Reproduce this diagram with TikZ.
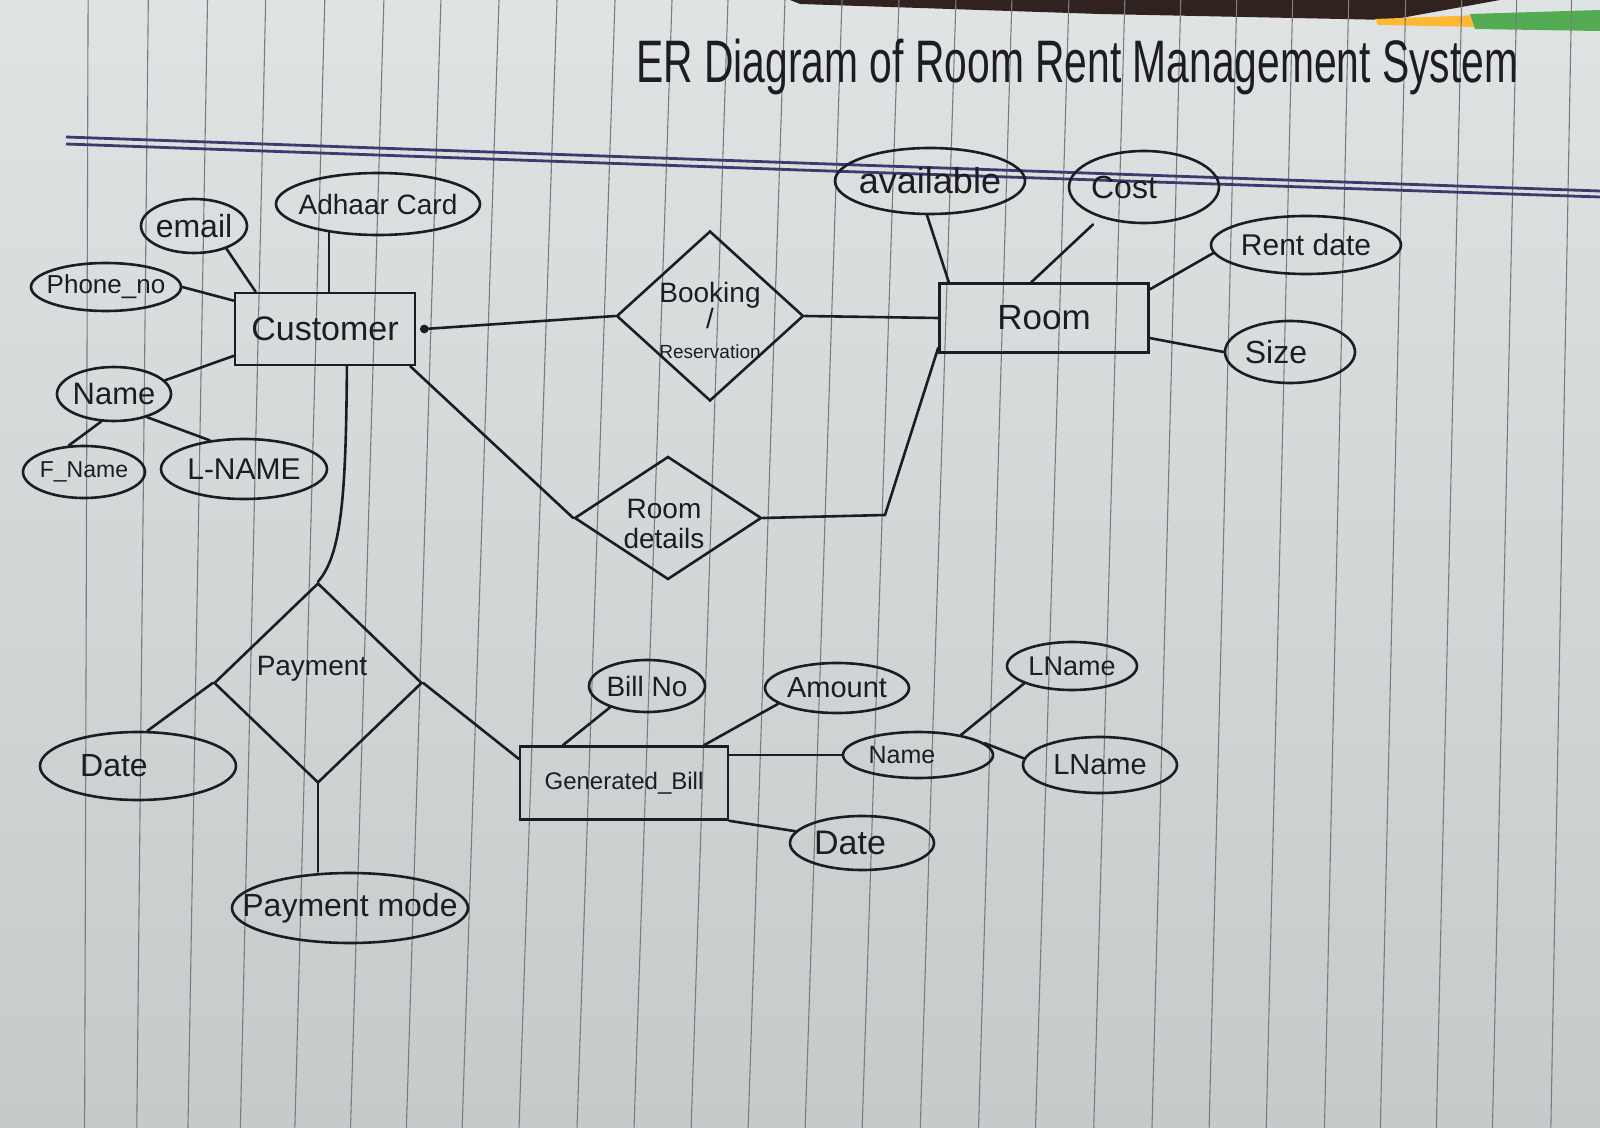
\documentclass[tikz,border=0pt]{standalone}
\usepackage{fontspec}
\setmainfont{Liberation Sans}
\usepackage{graphicx}
\usetikzlibrary{shapes.geometric,calc}
\definecolor{ink}{RGB}{28,28,34}
\definecolor{ruleln}{RGB}{120,125,127}
\definecolor{blueline}{RGB}{58,60,112}
\definecolor{papertop}{RGB}{224,227,227}
\definecolor{paperbot}{RGB}{198,202,202}
\definecolor{deskdark}{RGB}{48,34,30}
\newcommand\fsz[1]{\fontsize{#1}{#1}\selectfont}
\begin{document}
\begin{tikzpicture}[x=0.5pt,y=-0.5pt,
  ent/.style={draw=ink, line width=1.3pt, rectangle, inner sep=0pt, text=ink},
  attr/.style={draw=ink, line width=1.3pt, ellipse, inner sep=0pt, text=ink},
  rel/.style={draw=ink, line width=1.3pt, diamond, inner sep=0pt},
  reltext/.style={inner sep=0pt, align=center, text=ink},
  conn/.style={draw=ink, line width=1.3pt, line cap=round},
  paperrule/.style={draw=ruleln, line width=0.55pt},
  dbl/.style={draw=blueline, line width=1.4pt}]
\useasboundingbox (0,0) rectangle (1600,1128);
% paper
\shade[top color=papertop, bottom color=paperbot] (0,0) rectangle (1600,1128);
\fill[deskdark] (790,0) -- (1500,0) -- (1390,20) -- (1100,14) -- (800,4) -- cycle;
\fill[orange!70!yellow!80!white] (1375,19) -- (1480,15) -- (1480,27) -- (1378,25) -- cycle;
\fill[green!35!gray] (1470,14) -- (1600,10) -- (1600,31) -- (1475,29) -- cycle;
\foreach \a/\b in {88/85,148/138,207/190,265/243,324/298,383/354,440/410,498/466,556/523,614/581,671/638,727/695,784/752,841/809,898/866,955/924,1011/982,1068/1039,1124/1097,1180/1155,1236/1212,1292/1269,1348/1327,1405/1383,1461/1439,1516/1495,1571/1553}
  \draw[paperrule] ($(\a,30)!-0.0306!(\b,1010)$) -- ($(\a,30)!1.1204!(\b,1010)$);
% double rule under the title
\draw[dbl] (66,137) -- (800,163) -- (1600,191);
\draw[dbl] (66,144) -- (800,170) -- (1600,197);
% title
\node[anchor=base west, inner sep=0pt, text=ink] (title) at (636,83)
  {\scalebox{0.68}[1]{\fsz{30}ER Diagram of Room Rent Management System}};

% entities
\node[ent, minimum width=90pt, minimum height=36pt, font=\fsz{17}] (Customer) at (325,329) {Customer};
\node[ent, minimum width=104.5pt, minimum height=34.5pt, font=\fsz{17.5}] (Room) at (1044,318) {Room};
\node[ent, minimum width=104pt, minimum height=36.5pt, font=\fsz{12}] (Bill) at (624,783) {Generated\_Bill};

% relationships
\node[rel, minimum width=93.5pt, minimum height=85pt] (Booking) at (710,316) {};
\node[reltext, font=\fsz{14}] (BookingT) at ([yshift=-2pt]Booking.center) {Booking\\[-1pt]/\\[1pt]{\fsz{9.5}Reservation}};
\node[rel, minimum width=93.5pt, minimum height=61.5pt] (RoomDet) at (668,518) {};
\node[reltext, font=\fsz{14}] (RoomDetT) at ([xshift=-2pt,yshift=-3pt]RoomDet.center) {Room\\[1pt]details};
\node[rel, minimum width=104pt, minimum height=100pt] (Payment) at (318,683) {};
\node[reltext, font=\fsz{14}] (PaymentT) at ([xshift=-3pt,yshift=7pt]Payment.center) {Payment};

% attributes
\node[attr, minimum width=53pt, minimum height=27pt, font=\fsz{16}] (email) at (194,226) {\makebox[0pt]{email}};
\node[attr, minimum width=102pt, minimum height=31pt, font=\fsz{14}] (Adhaar) at (378,204) {\makebox[0pt]{Adhaar Card}};
\node[attr, minimum width=75pt, minimum height=24pt, font=\fsz{13}] (Phone) at (106,287) {\makebox[0pt]{Phone\_no}};
\node[attr, minimum width=57pt, minimum height=27pt, font=\fsz{15.5}] (Name) at (114,394) {\makebox[0pt]{Name}};
\node[attr, minimum width=61pt, minimum height=26pt, font=\fsz{11.5}] (FName) at (84,472) {\makebox[0pt]{F\_Name}};
\node[attr, minimum width=83pt, minimum height=30pt, font=\fsz{15}] (LNAME) at (244,469) {\makebox[0pt]{L-NAME}};
\node[attr, minimum width=95pt, minimum height=33pt, font=\fsz{18}] (avail) at (930,181) {\makebox[0pt]{available}};
\node[attr, minimum width=75pt, minimum height=36pt, font=\fsz{16}] (Cost) at (1144,187) {\makebox[0pt]{\kern-20pt Cost}};
\node[attr, minimum width=95pt, minimum height=29pt, font=\fsz{15}] (Rent) at (1306,245) {\makebox[0pt]{Rent date}};
\node[attr, minimum width=65pt, minimum height=31pt, font=\fsz{16}] (Size) at (1290,352) {\makebox[0pt]{\kern-14pt Size}};
\node[attr, minimum width=98pt, minimum height=34pt, font=\fsz{16}] (DateP) at (138,766) {\makebox[0pt]{\kern-24pt Date}};
\node[attr, minimum width=118pt, minimum height=35pt, font=\fsz{16}] (PayMode) at (350,908) {\makebox[0pt]{Payment mode}};
\node[attr, minimum width=58pt, minimum height=26pt, font=\fsz{14}] (BillNo) at (647,686) {\makebox[0pt]{Bill No}};
\node[attr, minimum width=72pt, minimum height=25pt, font=\fsz{14.5}] (Amount) at (837,688) {\makebox[0pt]{Amount}};
\node[attr, minimum width=75pt, minimum height=23pt, font=\fsz{12.5}] (BName) at (918,755) {\makebox[0pt]{\kern-16pt Name}};
\node[attr, minimum width=65pt, minimum height=24pt, font=\fsz{13.5}] (LTop) at (1072,666) {\makebox[0pt]{LName}};
\node[attr, minimum width=77pt, minimum height=28pt, font=\fsz{14.5}] (LRight) at (1100,765) {\makebox[0pt]{LName}};
\node[attr, minimum width=72pt, minimum height=27pt, font=\fsz{17}] (DateB) at (862,843) {\makebox[0pt]{\kern-12pt Date}};

% customer attributes
\draw[conn] (email.-35) -- ($(Customer.north west)!0.12!(Customer.north east)$);
\draw[conn] (Adhaar.-150) -- (Adhaar.-150 |- Customer.north);
\draw[conn] (Phone.east) -- ($(Customer.north west)!0.12!(Customer.south west)$);
\draw[conn] (Name.15) -- ($(Customer.south west)!0.14!(Customer.north west)$);
\draw[conn] (Name.-115) -- (FName.120);
\draw[conn] (Name.-35) -- (LNAME.140);

% customer - booking - room
\draw[conn] ([xshift=4pt]Customer.east) -- (Booking.west);
\fill[ink] ([xshift=4pt]Customer.east) circle (2.2pt);
\draw[conn] (Booking.east) -- (Room.west);

% room attributes
\draw[conn] (avail.-95) -- ($(Room.north west)!0.05!(Room.north east)$);
\draw[conn, shorten <=5pt] (Cost.-145) -- ($(Room.north west)!0.44!(Room.north east)$);
\draw[conn] (Rent.185) -- ($(Room.north east)!0.1!(Room.south east)$);
\draw[conn] (Size.west) -- ($(Room.south east)!0.22!(Room.north east)$);

% customer - room details - room
\coordinate (rdbend) at (885,515);
\draw[conn] ([xshift=-3pt]Customer.south east) -- (RoomDet.west);
\draw[conn] (RoomDet.east) -- (rdbend) -- ([yshift=3pt]Room.south west);

% customer - payment - bill
\coordinate (custbot) at ($(Customer.south west)!0.62!(Customer.south east)$);
\draw[conn] (custbot) .. controls (346,500) and (341,555) .. (Payment.north);
\draw[conn] (Payment.west) -- (DateP.75);
\draw[conn] (Payment.south) -- (Payment.south |- PayMode.north);
\draw[conn] (Payment.east) -- ($(Bill.north west)!0.18!(Bill.south west)$);

% bill attributes
\draw[conn] (BillNo.-150) -- ($(Bill.north west)!0.21!(Bill.north east)$);
\draw[conn] (Amount.-165) -- ($(Bill.north west)!0.88!(Bill.north east)$);
\draw[conn] (BName.west) -- (BName.west -| Bill.east);
\draw[conn] (BName.25) -- (LTop.-160);
\draw[conn] (BName.10) -- (LRight.175);
\draw[conn] (DateB.170) -- (Bill.south east);
\end{tikzpicture}
\end{document}
